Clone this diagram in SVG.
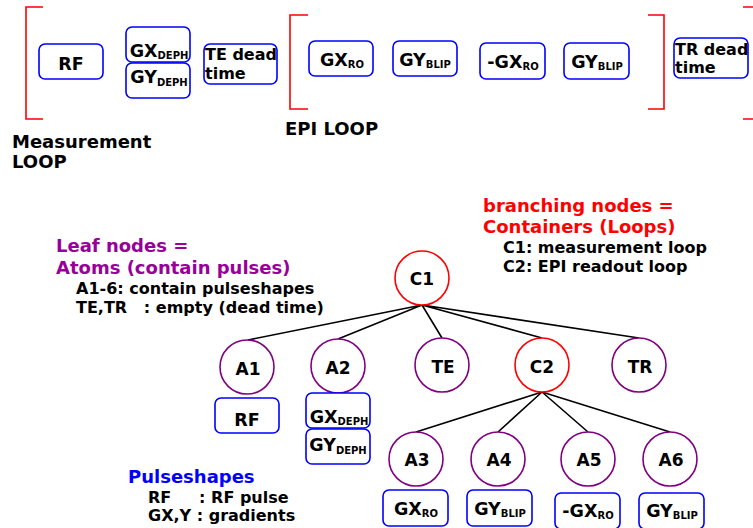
<svg xmlns="http://www.w3.org/2000/svg" width="753" height="528" viewBox="0 0 753 528">
<style>
text{font-family:"DejaVu Sans","Liberation Sans",sans-serif;font-weight:bold;fill:#000}
.box{fill:#fff;stroke:#0000ff;stroke-width:1.6}
.brk{fill:none;stroke:#ff0000;stroke-width:1.6}
.cont{fill:#fff;stroke:#ff0000;stroke-width:1.6}
.atom{fill:#fff;stroke:#800080;stroke-width:1.6}
.edge{stroke:#000;stroke-width:1.6;fill:none}
.lbl{font-size:17.5px;text-anchor:middle}
.clbl{font-size:17px;text-anchor:middle}
.sub{font-size:10px}
.dt{font-size:16px}
.h{font-size:18px}
.s{font-size:16px;white-space:pre}
</style>
<g id="brackets">
<path class="brk" d="M43,7 H26 V119 H43"/>
<path class="brk" d="M308,15 H290 V109 H308"/>
<path class="brk" d="M648,15 H664 V109 H648"/>
<path class="brk" d="M743,7 H756 M743,119 H756"/>
</g>
<g id="top-rf"><rect class="box" x="39" y="44" width="64" height="35" rx="6"/><text class="lbl" x="71" y="70">RF</text></g>
<g id="top-gxdeph"><rect class="box" x="126" y="27" width="64" height="35" rx="6"/><text class="lbl" x="159" y="57">GX<tspan class="sub" dy="2">DEPH</tspan></text></g>
<g id="top-gydeph"><rect class="box" x="126" y="63" width="64" height="35" rx="6"/><text class="lbl" x="159" y="83">GY<tspan class="sub" dy="3">DEPH</tspan></text></g>
<g id="top-te"><rect class="box" x="204" y="44" width="73" height="40" rx="6"/><text class="dt" x="205" y="60">TE dead</text><text class="dt" x="205" y="79">time</text></g>
<g id="top-gxro"><rect class="box" x="309" y="41" width="64" height="35" rx="6"/><text class="lbl" x="342" y="66">GX<tspan class="sub" dy="2">RO</tspan></text></g>
<g id="top-gyblip1"><rect class="box" x="393" y="41" width="64" height="35" rx="6"/><text class="lbl" x="425" y="66">GY<tspan class="sub" dy="2">BLIP</tspan></text></g>
<g id="top-mgxro"><rect class="box" x="480" y="43" width="65" height="36" rx="6"/><text class="lbl" x="513" y="68">-GX<tspan class="sub" dy="2">RO</tspan></text></g>
<g id="top-gyblip2"><rect class="box" x="564" y="43" width="65" height="36" rx="6"/><text class="lbl" x="597" y="68">GY<tspan class="sub" dy="2">BLIP</tspan></text></g>
<g id="top-tr"><rect class="box" x="674" y="38" width="74" height="40" rx="6"/><text class="dt" x="675" y="55">TR dead</text><text class="dt" x="675" y="73">time</text></g>
<g id="loop-labels">
<text class="h" x="12" y="148">Measurement</text>
<text class="h" x="12" y="168">LOOP</text>
<text class="h" x="285" y="135">EPI LOOP</text>
</g>
<g id="legend-leaf">
<text class="h" x="56" y="252" style="fill:#990099">Leaf nodes =</text>
<text class="h" x="56" y="274" style="fill:#990099">Atoms (contain pulses)</text>
<text class="s" x="76" y="294">A1-6: contain pulseshapes</text>
<text class="s" x="76" y="313">TE,TR   : empty (dead time)</text>
</g>
<g id="legend-branch">
<text class="h" x="483" y="212" style="fill:#ff0000">branching nodes =</text>
<text class="h" x="483" y="233" style="fill:#ff0000">Containers (Loops)</text>
<text class="s" x="503" y="253">C1: measurement loop</text>
<text class="s" x="503" y="272">C2: EPI readout loop</text>
</g>
<g id="legend-pulse">
<text class="h" x="128" y="483" style="fill:#0000ff">Pulseshapes</text>
<text class="s" x="148" y="503">RF     : RF pulse</text>
<text class="s" x="148" y="521">GX,Y : gradients</text>
</g>
<g id="connectors">
<path class="edge" d="M422,305 L248,340 M422,305 L338,339 M422,305 L442,338 M422,305 L542,338 M422,305 L639,338"/>
<path class="edge" d="M542,392 L416,432 M542,392 L498,432 M542,392 L588,432 M542,392 L670,432"/>
</g>
<g id="C1"><circle class="cont" cx="422" cy="278" r="27"/><text class="clbl" x="422" y="285">C1</text></g>
<g id="A1"><circle class="atom" cx="247" cy="367" r="27"/><text class="clbl" x="248" y="375">A1</text></g>
<g id="A2"><circle class="atom" cx="338" cy="366" r="27"/><text class="clbl" x="338" y="374">A2</text></g>
<g id="TE"><circle class="atom" cx="442" cy="365" r="27"/><text class="clbl" x="443" y="373">TE</text></g>
<g id="C2"><circle class="cont" cx="542" cy="365" r="27"/><text class="clbl" x="542" y="373">C2</text></g>
<g id="TR"><circle class="atom" cx="639" cy="365" r="27"/><text class="clbl" x="640" y="373">TR</text></g>
<g id="A3"><circle class="atom" cx="416" cy="459" r="27"/><text class="clbl" x="417" y="466">A3</text></g>
<g id="A4"><circle class="atom" cx="498" cy="459" r="27"/><text class="clbl" x="499" y="466">A4</text></g>
<g id="A5"><circle class="atom" cx="588" cy="459" r="27"/><text class="clbl" x="589" y="466">A5</text></g>
<g id="A6"><circle class="atom" cx="670" cy="459" r="27"/><text class="clbl" x="671" y="466">A6</text></g>
<g id="box-rf"><rect class="box" x="215" y="398" width="64" height="35" rx="6"/><text class="lbl" x="247" y="426">RF</text></g>
<g id="box-gxdeph"><rect class="box" x="306" y="393" width="64" height="35" rx="6"/><text class="lbl" x="339" y="423">GX<tspan class="sub" dy="2">DEPH</tspan></text></g>
<g id="box-gydeph"><rect class="box" x="306" y="429" width="64" height="35" rx="6"/><text class="lbl" x="338" y="451">GY<tspan class="sub" dy="3">DEPH</tspan></text></g>
<g id="box-gxro"><rect class="box" x="383" y="490" width="65" height="36" rx="6"/><text class="lbl" x="416" y="515">GX<tspan class="sub" dy="2">RO</tspan></text></g>
<g id="box-gyblip1"><rect class="box" x="467" y="490" width="65" height="36" rx="6"/><text class="lbl" x="500" y="515">GY<tspan class="sub" dy="2">BLIP</tspan></text></g>
<g id="box-mgxro"><rect class="box" x="555" y="493" width="65" height="36" rx="6"/><text class="lbl" x="588" y="517">-GX<tspan class="sub" dy="2">RO</tspan></text></g>
<g id="box-gyblip2"><rect class="box" x="639" y="493" width="65" height="36" rx="6"/><text class="lbl" x="672" y="517">GY<tspan class="sub" dy="2">BLIP</tspan></text></g>
</svg>
